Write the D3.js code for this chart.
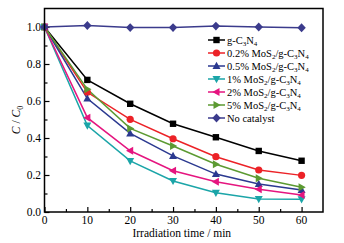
<!DOCTYPE html>
<html><head><meta charset="utf-8">
<script src="https://cdn.jsdelivr.net/npm/d3@7"></script>
<style>body{margin:0;background:#fff}svg{display:block}text{font-family:"Liberation Serif","Times New Roman",serif}</style>
</head><body><svg id="c" width="344" height="243"></svg>
<script>
const times = [0, 10, 20, 30, 40, 50, 60];
const gC3N4 = [1.0, 0.714, 0.585, 0.477, 0.404, 0.33, 0.277];
const mos02 = [1.0, 0.647, 0.501, 0.396, 0.299, 0.227, 0.198];
const mos05 = [1.0, 0.613, 0.425, 0.303, 0.205, 0.151, 0.119];
const mos1 = [1.0, 0.467, 0.276, 0.168, 0.104, 0.07, 0.069];
const mos2 = [1.0, 0.51, 0.331, 0.223, 0.164, 0.123, 0.092];
const mos5 = [1.0, 0.663, 0.452, 0.357, 0.258, 0.182, 0.134];
const noCat = [1.0, 1.008, 0.997, 0.997, 1.005, 1.0, 0.996];
const xTicks = [0, 10, 20, 30, 40, 50, 60];
const yTicks = [0.0, 0.2, 0.4, 0.6, 0.8, 1.0];

const series = [
  {name: [["g-C",""],["3","s"],["N",""],["4","s"]], v: gC3N4, c: "#000000", m: "square"},
  {name: [["0.2% MoS",""],["2","s"],["/g-C",""],["3","s"],["N",""],["4","s"]], v: mos02, c: "#ec2227", m: "circle"},
  {name: [["0.5% MoS",""],["2","s"],["/g-C",""],["3","s"],["N",""],["4","s"]], v: mos05, c: "#2b3990", m: "up"},
  {name: [["1% MoS",""],["2","s"],["/g-C",""],["3","s"],["N",""],["4","s"]], v: mos1, c: "#1ba5a8", m: "down"},
  {name: [["2% MoS",""],["2","s"],["/g-C",""],["3","s"],["N",""],["4","s"]], v: mos2, c: "#e5157f", m: "left"},
  {name: [["5% MoS",""],["2","s"],["/g-C",""],["3","s"],["N",""],["4","s"]], v: mos5, c: "#5c9a32", m: "right"},
  {name: [["No catalyst",""]], v: noCat, c: "#3b3b8c", m: "diamond"}
];

const svg = d3.select("#c");
const L = 44.5, R = 323, T = 8.5, B = 212;
const x = d3.scaleLinear().domain([0, 65]).range([L, R]);
const y = d3.scaleLinear().domain([0, 1.1]).range([B, T]);

function marker(g, type, cx, cy, col) {
  const s = 3.6;
  if (type === "circle") { g.append("circle").attr("cx", cx).attr("cy", cy).attr("r", 3.6).attr("fill", col); return; }
  let pts;
  if (type === "square") pts = [[-3.2,-3.2],[3.2,-3.2],[3.2,3.2],[-3.2,3.2]];
  if (type === "up") pts = [[0,-4.2],[4,3],[-4,3]];
  if (type === "down") pts = [[0,4.2],[4,-3],[-4,-3]];
  if (type === "left") pts = [[-4.2,0],[3,-4],[3,4]];
  if (type === "right") pts = [[4.2,0],[-3,-4],[-3,4]];
  if (type === "diamond") pts = [[0,-4.4],[4.2,0],[0,4.4],[-4.2,0]];
  g.append("polygon").attr("points", pts.map(p => (cx+p[0])+","+(cy+p[1])).join(" ")).attr("fill", col);
}

// axes
const xAxis = d3.axisBottom(x).tickValues(d3.range(0, 65, 5)).tickSize(-4).tickFormat(() => "");
const gx = svg.append("g").attr("transform", `translate(0,${B})`).call(xAxis);
gx.selectAll(".tick line").attr("y2", d => d % 10 === 0 ? -5 : -3).attr("stroke-width", 1.2);
gx.select(".domain").remove();
const yAxis = d3.axisLeft(y).tickValues(d3.range(0, 1.1, 0.1)).tickSize(-4).tickFormat(() => "");
const gy = svg.append("g").attr("transform", `translate(${L},0)`).call(yAxis);
gy.selectAll(".tick line").attr("x2", (d,i) => i % 2 === 0 ? 5 : 3).attr("stroke-width", 1.2);
gy.select(".domain").remove();

svg.append("g").selectAll("text").data(xTicks).join("text")
  .attr("x", d => x(d)).attr("y", 224).attr("text-anchor", "middle")
  .attr("font-size", 11.5).text(d => d);
svg.append("g").selectAll("text").data(yTicks).join("text")
  .attr("x", 41).attr("y", d => y(d) + 4).attr("text-anchor", "end")
  .attr("font-size", 11.5).text(d => d.toFixed(1));

svg.append("text").attr("x", (L+R)/2 - 2).attr("y", 237).attr("text-anchor", "middle")
  .attr("font-size", 11.5).text("Irradiation time / min");
const yl = svg.append("text").attr("transform", "translate(20,120) rotate(-90)").attr("text-anchor", "middle").attr("font-size", 11.5);
yl.append("tspan").attr("font-style", "italic").text("C");
yl.append("tspan").text(" / ");
yl.append("tspan").attr("font-style", "italic").text("C");
yl.append("tspan").attr("font-size", 8).attr("dy", 3).text("0");

// lines
const line = d3.line().x((d,i) => x(times[i])).y(d => y(d));
series.forEach(s => {
  svg.append("path").attr("d", line(s.v)).attr("fill", "none").attr("stroke", s.c).attr("stroke-width", 1.5);
});
series.forEach(s => {
  const g = svg.append("g");
  s.v.forEach((v, i) => marker(g, s.m, x(times[i]), y(v), s.c));
});

// frame
svg.append("rect").attr("x", L).attr("y", T).attr("width", R-L).attr("height", B-T)
  .attr("fill", "none").attr("stroke", "#000").attr("stroke-width", 1.5);

// legend
const lg = svg.append("g");
series.forEach((s, i) => {
  const ly = 40 + i * 13;
  lg.append("line").attr("x1", 208).attr("x2", 225).attr("y1", ly).attr("y2", ly).attr("stroke", s.c).attr("stroke-width", 1.5);
  marker(lg, s.m, 216.5, ly, s.c);
  const t = lg.append("text").attr("x", 227).attr("y", ly + 3.5).attr("font-size", 10.5);
  s.name.forEach(p => {
    if (p[1] === "s") t.append("tspan").attr("font-size", 7).attr("dy", 2.5).text(p[0]);
    else {
      const ts = t.append("tspan").text(p[0]);
      if (t.selectAll("tspan").size() > 1) ts.attr("dy", -2.5);
    }
  });
});
</script></body></html>
